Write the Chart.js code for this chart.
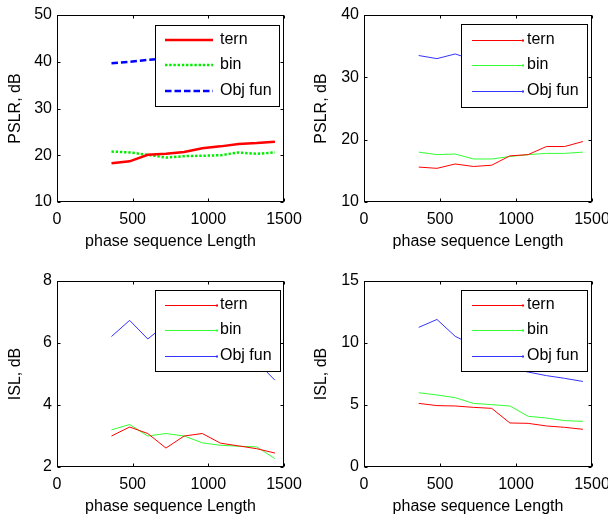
<!DOCTYPE html>
<html><head><meta charset="utf-8">
<script src="https://cdn.jsdelivr.net/npm/chart.js@4.4.1/dist/chart.umd.min.js"></script>
<style>
html,body{margin:0;padding:0;background:#fff;}
#wrap{position:relative;width:608px;height:517px;background:#fff;}
canvas{position:absolute;left:0;top:0;}
</style></head><body><div id="wrap">
<canvas id="c0" width="608" height="517" style="width:608px;height:517px"></canvas>
<canvas id="c1" width="608" height="517" style="width:608px;height:517px"></canvas>
<canvas id="c2" width="608" height="517" style="width:608px;height:517px"></canvas>
<canvas id="c3" width="608" height="517" style="width:608px;height:517px"></canvas>
</div>
<script>
// ---- data ----
const lengths = [360, 480, 600, 720, 840, 960, 1080, 1200, 1320, 1440];
const xTickStep = 500;
const seriesNames = ['tern', 'bin', 'Obj fun'];
const xTitle = 'phase sequence Length';

// top-left: PSLR (thick styled lines)
const pslrA_tern = [18.3, 18.7, 20.1, 20.3, 20.7, 21.5, 21.9, 22.4, 22.6, 22.9];
const pslrA_bin  = [20.8, 20.6, 20.1, 19.5, 19.8, 19.9, 20.0, 20.6, 20.3, 20.6];
const pslrA_obj  = [39.7, 40.0, 40.4, 40.7, 41.0, 41.3, 41.5, 41.8, 42.0, 42.2];
// top-right: PSLR
const pslrB_tern = [15.6, 15.4, 16.1, 15.7, 15.9, 17.4, 17.6, 18.9, 18.9, 19.7];
const pslrB_bin  = [18.0, 17.6, 17.7, 16.9, 16.9, 17.3, 17.6, 17.8, 17.8, 18.0];
const pslrB_obj  = [33.5, 33.0, 33.75, 32.8, 32.5, 32.2, 32.0, 31.7, 31.5, 31.2];
// bottom-left: ISL
const islA_tern = [3.0, 3.29, 3.08, 2.61, 3.0, 3.08, 2.77, 2.68, 2.59, 2.45];
const islA_bin  = [3.2, 3.37, 3.0, 3.08, 3.0, 2.78, 2.70, 2.67, 2.65, 2.27];
const islA_obj  = [6.21, 6.73, 6.13, 6.6, 6.3, 6.1, 5.9, 5.7, 5.4, 4.8];
// bottom-right: ISL
const islB_tern = [5.13, 4.95, 4.92, 4.81, 4.73, 3.55, 3.52, 3.31, 3.2, 3.04];
const islB_bin  = [5.99, 5.81, 5.59, 5.13, 5.03, 4.92, 4.09, 3.95, 3.74, 3.68];
const islB_obj  = [11.26, 11.9, 10.54, 9.8, 8.8, 7.95, 7.66, 7.37, 7.15, 6.9];

const yTitles = ['PSLR, dB', 'PSLR, dB', 'ISL, dB', 'ISL, dB'];
const yRanges = [[10, 50, 10], [10, 40, 10], [2, 8, 2], [0, 15, 5]];

// ---- layout / style ----
const FONT = '"Liberation Sans", Arial, Helvetica, sans-serif';
const panels = [
  {id:'c0', area:{l:57, r:284, t:15, b:202}, yw:57, xh:49, ytp:6,
   legend:{x1:155, x2:279, y1:25, y2:106, lx1:165, lx2:213, tx:220, rows:[39.5, 65, 90.5]}, thick:true,
   series:[pslrA_tern, pslrA_bin, pslrA_obj]},
  {id:'c1', area:{l:364, r:592, t:15, b:202}, yw:58, xh:49, ytp:6,
   legend:{x1:461, x2:587, y1:24, y2:107, lx1:472, lx2:523, tx:527, rows:[40, 65, 90.5]}, thick:false,
   series:[pslrB_tern, pslrB_bin, pslrB_obj]},
  {id:'c2', area:{l:57, r:284, t:281, b:467}, yw:57, xh:49, ytp:6,
   legend:{x1:155, x2:280, y1:290, y2:371, lx1:165, lx2:217, tx:220, rows:[304.5, 330, 356]}, thick:false,
   series:[islA_tern, islA_bin, islA_obj]},
  {id:'c3', area:{l:364, r:592, t:281, b:467}, yw:58, xh:49, ytp:6,
   legend:{x1:461, x2:587, y1:290, y2:371, lx1:472, lx2:523, tx:527, rows:[304.5, 330, 356]}, thick:false,
   series:[islB_tern, islB_bin, islB_obj]}
];

const thickStyles = [
  {borderColor:'#ff0000', borderWidth:2.5, borderDash:[]},
  {borderColor:'#00ee00', borderWidth:2.5, borderDash:[2.4, 1.8]},
  {borderColor:'#0000ff', borderWidth:2.5, borderDash:[6.5, 3]}
];
const thinStyles = [
  {borderColor:'#ff0000', borderWidth:1, borderDash:[]},
  {borderColor:'#33ff33', borderWidth:1, borderDash:[]},
  {borderColor:'#3333ff', borderWidth:1, borderDash:[]}
];

const framePlugin = {
  id: 'frame',
  afterDatasetsDraw(chart, args, o) {
    const ctx = chart.ctx;
    const lg = o.legend;
    ctx.save();
    ctx.fillStyle = '#fff';
    ctx.fillRect(lg.x1, lg.y1, lg.x2 - lg.x1, lg.y2 - lg.y1);
    ctx.strokeStyle = '#000';
    ctx.lineWidth = 1;
    ctx.setLineDash([]);
    ctx.strokeRect(lg.x1 + 0.5, lg.y1 + 0.5, lg.x2 - lg.x1, lg.y2 - lg.y1);
    chart.data.datasets.forEach((ds, i) => {
      const y = lg.rows[i];
      const off = ds.borderWidth === 1 ? 0.5 : 0;
      ctx.save();
      ctx.strokeStyle = ds.borderColor;
      ctx.lineWidth = ds.borderWidth;
      ctx.setLineDash(ds.borderDash || []);
      ctx.beginPath();
      ctx.moveTo(lg.lx1, Math.round(y) + off);
      ctx.lineTo(lg.lx2, Math.round(y) + off);
      ctx.stroke();
      if (ds.borderWidth === 1) {
        ctx.fillStyle = ds.borderColor;
        ctx.fillRect(lg.lx2 - 1, Math.round(y) - 0.5, 2, 2);
      }
      ctx.restore();
      ctx.fillStyle = '#000';
      ctx.font = '16px ' + FONT;
      ctx.textBaseline = 'middle';
      ctx.textAlign = 'left';
      ctx.fillText(ds.label, lg.tx, y);
    });
    ctx.restore();
  },
  afterDraw(chart) {
    const ctx = chart.ctx, a = chart.chartArea;
    const L = Math.round(a.left) + 0.5, R = Math.round(a.right) - 0.5;
    const T = Math.round(a.top) + 0.5, B = Math.round(a.bottom) - 0.5;
    ctx.save();
    ctx.strokeStyle = '#000';
    ctx.lineWidth = 1;
    ctx.strokeRect(L, T, R - L, B - T);
    const tl = 3;
    ctx.beginPath();
    chart.scales.x.ticks.forEach(t => {
      const px = Math.round(chart.scales.x.getPixelForValue(t.value)) + 0.5;
      ctx.moveTo(px, B); ctx.lineTo(px, B - tl);
      ctx.moveTo(px, T); ctx.lineTo(px, T + tl);
    });
    chart.scales.y.ticks.forEach(t => {
      const py = Math.round(chart.scales.y.getPixelForValue(t.value)) + 0.5;
      ctx.moveTo(L, py); ctx.lineTo(L + tl, py);
      ctx.moveTo(R, py); ctx.lineTo(R - tl, py);
    });
    ctx.stroke();
    ctx.restore();
  }
};

panels.forEach((p, k) => {
  const styles = p.thick ? thickStyles : thinStyles;
  const datasets = p.series.map((vals, i) => Object.assign({
    label: seriesNames[i],
    data: lengths.map((x, j) => ({x: x, y: vals[j]})),
    pointRadius: 0,
    tension: 0,
    fill: false
  }, styles[i]));
  const yr = yRanges[k];
  new Chart(document.getElementById(p.id), {
    type: 'line',
    data: {datasets},
    plugins: [framePlugin],
    options: {
      responsive: false,
      animation: false,
      events: [],
      layout: {padding: {left: p.area.l - p.yw, right: 608 - p.area.r, top: p.area.t, bottom: 517 - p.area.b - p.xh}},
      plugins: {
        legend: {display: false},
        tooltip: {enabled: false},
        frame: {legend: p.legend}
      },
      scales: {
        x: {
          type: 'linear', min: 0, max: 1500,
          afterFit(s) { s.height = p.xh; s.paddingLeft = 0; s.paddingRight = 0; },
          grid: {display: false, drawTicks: false},
          border: {display: false},
          ticks: {stepSize: xTickStep, autoSkip: false, maxRotation: 0, padding: 8, color: '#000',
                  font: {family: FONT, size: 16}, callback: v => String(v)},
          title: {display: true, text: xTitle, color: '#000', font: {family: FONT, size: 16}, padding: {top: 0, bottom: 0}}
        },
        y: {
          type: 'linear', min: yr[0], max: yr[1],
          afterFit(s) { s.width = p.yw; s.paddingTop = 0; s.paddingBottom = 0; },
          grid: {display: false, drawTicks: false},
          border: {display: false},
          ticks: {stepSize: yr[2], autoSkip: false, padding: 5, color: '#000',
                  font: {family: FONT, size: 16}, callback: v => String(v)},
          title: {display: true, text: yTitles[k], color: '#000', font: {family: FONT, size: 16}, padding: {top: p.ytp, bottom: 0}}
        }
      }
    }
  });
});
</script>
</body></html>
